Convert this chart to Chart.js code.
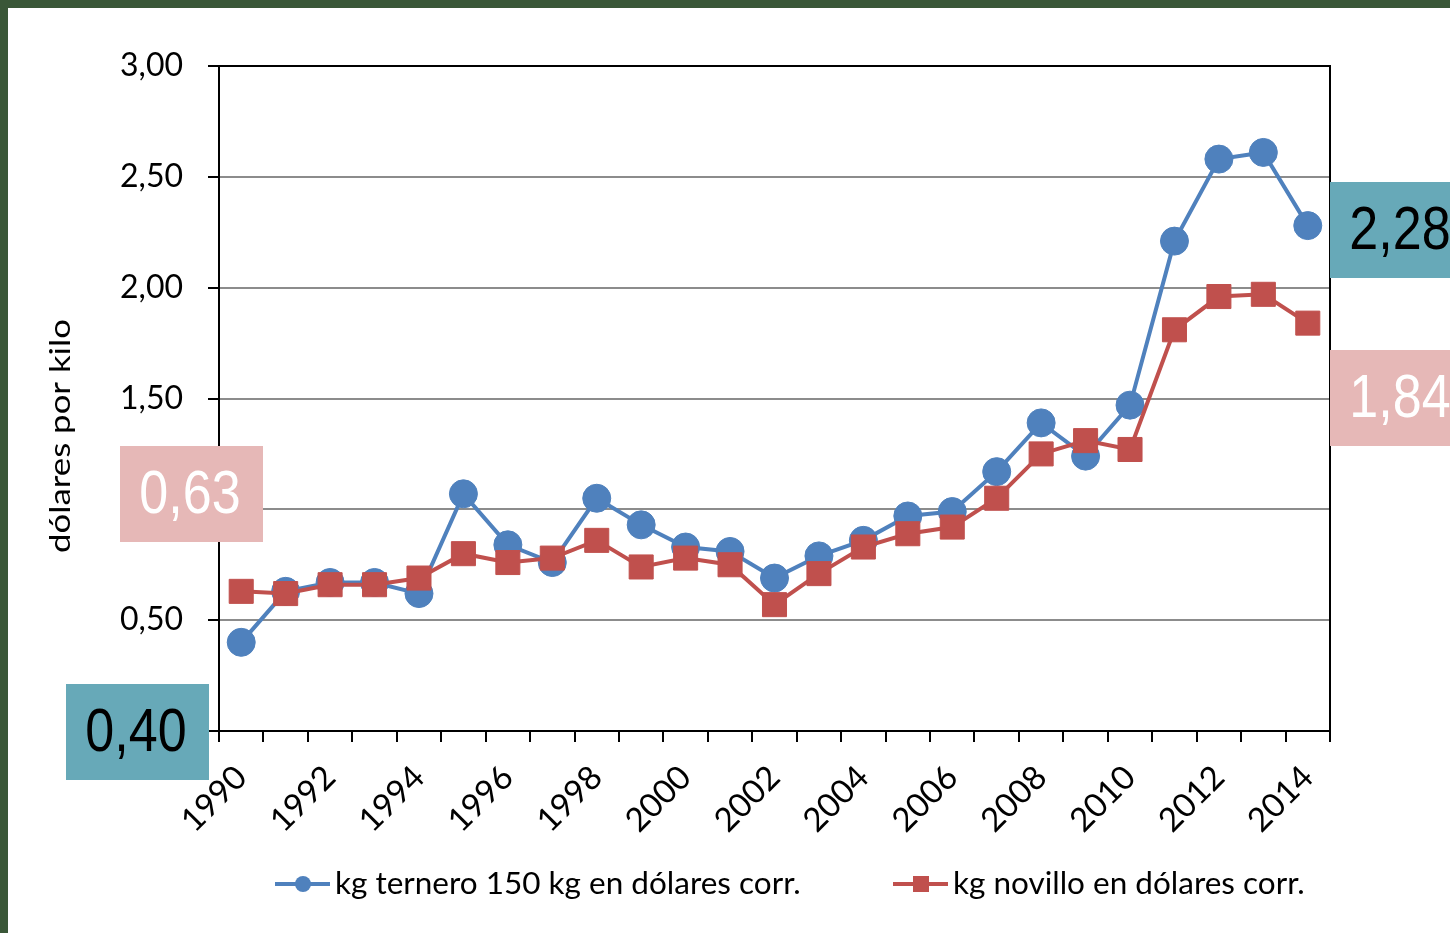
<!DOCTYPE html>
<html>
<head>
<meta charset="utf-8">
<script src="https://cdn.jsdelivr.net/npm/chart.js@4.4.1/dist/chart.umd.min.js"></script>
<style>
  html, body { margin: 0; padding: 0; background: #fff; }
  #wrap { width: 1450px; height: 933px; }
</style>
</head>
<body>
<div id="wrap"><canvas id="chart" width="1450" height="933"></canvas></div>
<script>
// values (dólares por kilo)
const years = ['1990', '1991', '1992', '1993', '1994', '1995', '1996', '1997', '1998', '1999',
    '2000', '2001', '2002', '2003', '2004', '2005', '2006', '2007', '2008', '2009',
    '2010', '2011', '2012', '2013', '2014'];
const ternero = [0.40, 0.63, 0.67, 0.67, 0.62, 1.07, 0.84, 0.76, 1.05, 0.93,
    0.83, 0.81, 0.69, 0.79, 0.86, 0.97, 0.99, 1.17, 1.39, 1.24,
    1.47, 2.21, 2.58, 2.61, 2.28];
const novillo = [0.63, 0.62, 0.66, 0.66, 0.69, 0.80, 0.76, 0.78, 0.86, 0.74,
    0.78, 0.75, 0.57, 0.71, 0.83, 0.89, 0.92, 1.05, 1.25, 1.31,
    1.27, 1.81, 1.96, 1.97, 1.84];
const seriesNames = ['kg ternero 150 kg en dólares corr.', 'kg novillo en dólares corr.'];

const BLUE = '#4F81BD';
const RED = '#C0504D';
const TEAL = '#67A9B8';
const PINK = '#E6B8B7';
const FONT = 'Lato, "Open Sans", sans-serif';

const fmt = v => v.toFixed(2).replace('.', ',');

// white page with the dark green frame on top and left
const pagePlugin = {
    id: 'page',
    beforeDraw(chart) {
        const ctx = chart.ctx;
        ctx.save();
        ctx.fillStyle = '#fff';
        ctx.fillRect(0, 0, chart.width, chart.height);
        ctx.fillStyle = '#3a5738';
        ctx.fillRect(0, 0, chart.width, 8);
        ctx.fillRect(0, 0, 8, chart.height);
        ctx.restore();
    }
};

// plot frame, axis title, value boxes and legend
const extrasPlugin = {
    id: 'extras',
    beforeDatasetsDraw(chart) {
        const { ctx, chartArea: a } = chart;
        ctx.save();
        ctx.strokeStyle = '#000';
        ctx.lineWidth = 2;
        ctx.beginPath();
        ctx.moveTo(a.left, a.top);
        ctx.lineTo(a.right, a.top);
        ctx.lineTo(a.right, a.bottom);
        ctx.stroke();
        ctx.restore();
    },
    afterDraw(chart) {
        const { ctx, chartArea: a } = chart;
        ctx.save();

        // y axis title
        ctx.translate(61, a.bottom - 295);
        ctx.rotate(-Math.PI / 2);
        ctx.scale(1.2, 1);
        ctx.fillStyle = '#000';
        ctx.font = '29px ' + FONT;
        ctx.textAlign = 'center';
        ctx.textBaseline = 'middle';
        ctx.fillText('dólares por kilo', 0, 0);
        ctx.restore();

        // value boxes for first and last year
        const last = years.length - 1;
        const boxes = [
            { x: a.left - 153, y: a.bottom - 47, bg: TEAL, fg: '#000', text: fmt(ternero[0]) },
            { x: a.left - 99, y: a.bottom - 285, bg: PINK, fg: '#fff', text: fmt(novillo[0]) },
            { x: a.right, y: a.top + 116, bg: TEAL, fg: '#000', text: fmt(ternero[last]) },
            { x: a.right, y: a.top + 284, bg: PINK, fg: '#fff', text: fmt(novillo[last]) }
        ];
        boxes.forEach(b => {
            ctx.save();
            ctx.fillStyle = b.bg;
            ctx.fillRect(b.x, b.y, 143, 96);
            ctx.translate(b.x + 70, b.y + 50);
            ctx.scale(0.84, 1);
            ctx.fillStyle = b.fg;
            ctx.font = '62px "Liberation Sans", Arial, sans-serif';
            ctx.textAlign = 'center';
            ctx.textBaseline = 'middle';
            ctx.fillText(b.text, 0, 0);
            ctx.restore();
        });

        // legend
        const starts = [275, 893];
        const ly = 884;
        chart.data.datasets.forEach((ds, i) => {
            const x = starts[i];
            ctx.save();
            ctx.strokeStyle = ds.borderColor;
            ctx.lineWidth = 4;
            ctx.beginPath();
            ctx.moveTo(x, ly);
            ctx.lineTo(x + 55, ly);
            ctx.stroke();
            ctx.fillStyle = ds.backgroundColor;
            if (ds.pointStyle === 'rect') {
                ctx.fillRect(x + 20, ly - 8, 16, 16);
            } else {
                ctx.beginPath();
                ctx.arc(x + 28, ly, 8, 0, Math.PI * 2);
                ctx.fill();
            }
            ctx.fillStyle = '#000';
            ctx.font = '31.5px ' + FONT;
            ctx.textAlign = 'left';
            ctx.textBaseline = 'middle';
            ctx.fillText(ds.label, x + 60, ly);
            ctx.restore();
        });
    }
};

const config = {
    type: 'line',
    data: {
        labels: years,
        datasets: [
            {
                label: seriesNames[0],
                data: ternero,
                borderColor: BLUE,
                backgroundColor: BLUE,
                borderWidth: 4,
                pointStyle: 'circle',
                pointRadius: 14,
                pointBorderWidth: 1,
                tension: 0,
                order: 1
            },
            {
                label: seriesNames[1],
                data: novillo,
                borderColor: RED,
                backgroundColor: RED,
                borderWidth: 4,
                pointStyle: 'rect',
                pointRadius: 17,
                pointBorderWidth: 1,
                tension: 0,
                order: 0
            }
        ]
    },
    options: {
        responsive: false,
        animation: false,
        layout: { padding: { top: 66, right: 120, bottom: 0, left: 8 } },
        plugins: {
            legend: { display: false },
            tooltip: { enabled: false }
        },
        scales: {
            x: {
                type: 'category',
                offset: true,
                grid: {
                    offset: true,
                    drawOnChartArea: false,
                    drawTicks: true,
                    tickLength: 11,
                    color: '#000',
                    lineWidth: 2
                },
                border: { color: '#000', width: 2 },
                ticks: {
                    autoSkip: false,
                    minRotation: 45,
                    maxRotation: 45,
                    padding: 16,
                    color: '#000',
                    font: { family: FONT, size: 33 },
                    callback: (v, i) => (i % 2 === 0 ? years[i] : '')
                },
                afterFit: scale => { scale.height = 202; }
            },
            y: {
                min: 0,
                max: 3,
                grid: {
                    color: ctx => (ctx.tick && ctx.tick.value === 3 ? '#000' : '#8c8c8c'),
                    tickColor: '#000',
                    tickLength: 11,
                    lineWidth: 2
                },
                border: { color: '#000', width: 2 },
                ticks: {
                    stepSize: 0.5,
                    padding: 25,
                    color: '#000',
                    font: { family: FONT, size: 32 },
                    callback: v => fmt(v)
                },
                afterFit: scale => { scale.width = 211; }
            }
        }
    },
    plugins: [pagePlugin, extrasPlugin]
};

new Chart(document.getElementById('chart'), config);
</script>
</body>
</html>
